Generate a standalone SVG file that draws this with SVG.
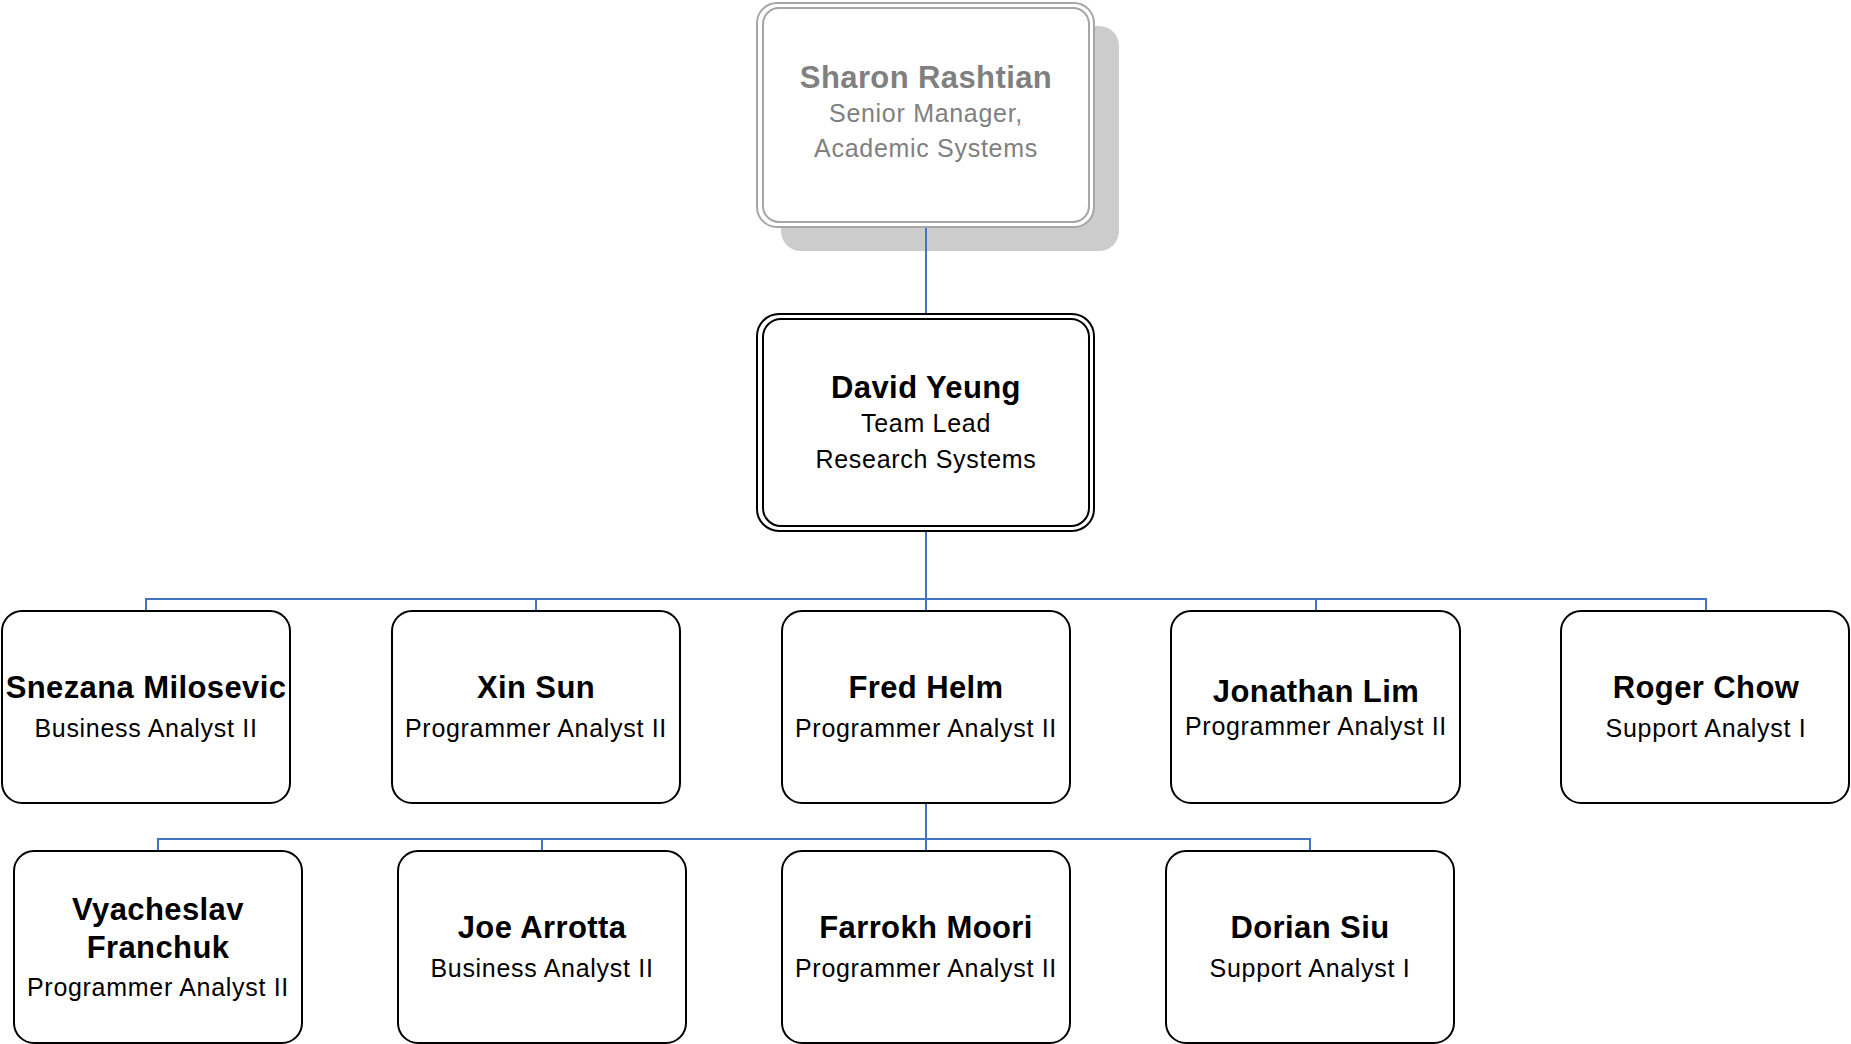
<svg xmlns="http://www.w3.org/2000/svg" width="1851" height="1044" viewBox="0 0 1851 1044">
<style>
.box{fill:#ffffff;stroke:#000000;stroke-width:2}
.name{font-family:"Liberation Sans",Arial,sans-serif;font-weight:bold;font-size:31px;letter-spacing:0.4px;fill:#000000;text-anchor:middle}
.title{font-family:"Liberation Sans",Arial,sans-serif;font-size:25px;letter-spacing:0.7px;fill:#000000;text-anchor:middle}
.conn{fill:none;stroke:#4472C4;stroke-width:2}
.gray{fill:#808080}
</style>
<rect width="1851" height="1044" fill="#ffffff"/>
<g id="sharon">
<rect x="781" y="26" width="338" height="225" rx="20" fill="#cccccc"/>
<rect x="757" y="3" width="337" height="224" rx="20" fill="#ffffff" stroke="#a6a6a6" stroke-width="2"/>
<rect x="763" y="8" width="326" height="214" rx="16" fill="none" stroke="#a6a6a6" stroke-width="2"/>
<text class="name gray" x="926" y="88">Sharon Rashtian</text>
<text class="title gray" x="926" y="122">Senior Manager,</text>
<text class="title gray" x="926" y="157">Academic Systems</text>
</g>
<g id="connectors">
<line class="conn" x1="926" y1="228" x2="926" y2="314"/>
<line class="conn" x1="926" y1="531" x2="926" y2="611"/>
<polyline class="conn" points="146,611 146,599 1706,599 1706,611"/>
<line class="conn" x1="536" y1="599" x2="536" y2="611"/>
<line class="conn" x1="1316" y1="599" x2="1316" y2="611"/>
<line class="conn" x1="926" y1="803" x2="926" y2="851"/>
<polyline class="conn" points="158,851 158,839 1310,839 1310,851"/>
<line class="conn" x1="542" y1="839" x2="542" y2="851"/>
</g>
<g id="david">
<rect class="box" x="757" y="314" width="337" height="217" rx="22"/>
<rect class="box" x="763" y="319" width="326" height="207" rx="18"/>
<text class="name" x="926" y="398">David Yeung</text>
<text class="title" x="926" y="432">Team Lead</text>
<text class="title" x="926" y="468">Research Systems</text>
</g>
<g id="snezana">
<rect class="box" x="2" y="611" width="288" height="192" rx="20"/>
<text class="name" x="146" y="698">Snezana Milosevic</text>
<text class="title" x="146" y="737">Business Analyst II</text>
</g>
<g id="xin">
<rect class="box" x="392" y="611" width="288" height="192" rx="20"/>
<text class="name" x="536" y="698">Xin Sun</text>
<text class="title" x="536" y="737">Programmer Analyst II</text>
</g>
<g id="fred">
<rect class="box" x="782" y="611" width="288" height="192" rx="20"/>
<text class="name" x="926" y="698">Fred Helm</text>
<text class="title" x="926" y="737">Programmer Analyst II</text>
</g>
<g id="jonathan">
<rect class="box" x="1171" y="611" width="289" height="192" rx="20"/>
<text class="name" x="1316" y="702">Jonathan Lim</text>
<text class="title" x="1316" y="735">Programmer Analyst II</text>
</g>
<g id="roger">
<rect class="box" x="1561" y="611" width="288" height="192" rx="20"/>
<text class="name" x="1706" y="698">Roger Chow</text>
<text class="title" x="1706" y="737">Support Analyst I</text>
</g>
<g id="vyacheslav">
<rect class="box" x="14" y="851" width="288" height="192" rx="20"/>
<text class="name" x="158" y="920">Vyacheslav</text>
<text class="name" x="158" y="958">Franchuk</text>
<text class="title" x="158" y="996">Programmer Analyst II</text>
</g>
<g id="joe">
<rect class="box" x="398" y="851" width="288" height="192" rx="20"/>
<text class="name" x="542" y="938">Joe Arrotta</text>
<text class="title" x="542" y="977">Business Analyst II</text>
</g>
<g id="farrokh">
<rect class="box" x="782" y="851" width="288" height="192" rx="20"/>
<text class="name" x="926" y="938">Farrokh Moori</text>
<text class="title" x="926" y="977">Programmer Analyst II</text>
</g>
<g id="dorian">
<rect class="box" x="1166" y="851" width="288" height="192" rx="20"/>
<text class="name" x="1310" y="938">Dorian Siu</text>
<text class="title" x="1310" y="977">Support Analyst I</text>
</g>
</svg>
